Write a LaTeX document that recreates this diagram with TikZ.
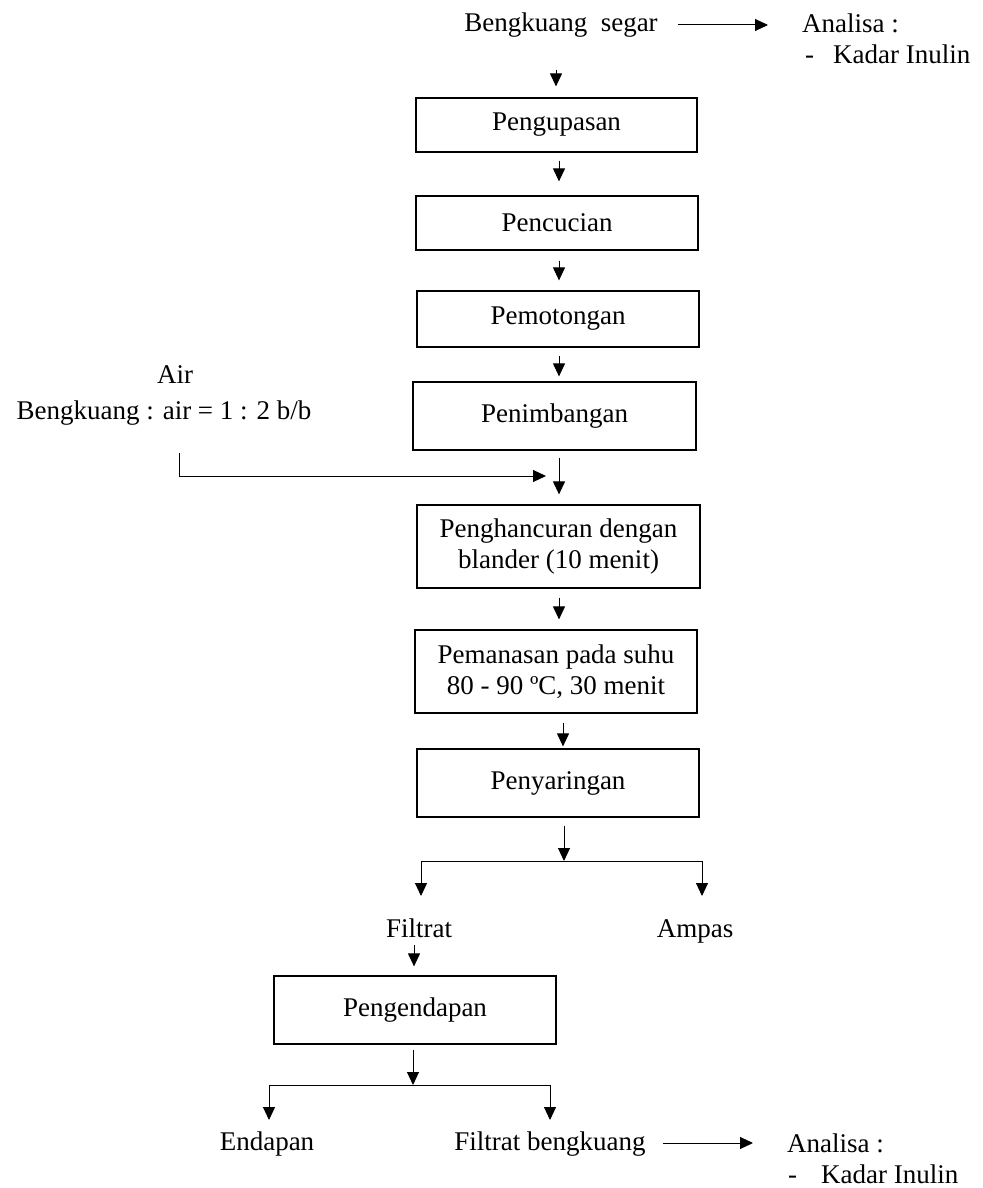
\documentclass[tikz,border=0pt]{standalone}
\usepackage{fontspec}
\setmainfont{Liberation Serif}
\usetikzlibrary{arrows.meta,calc}
\begin{document}
\begin{tikzpicture}[x=1pt,y=-1pt,
  every node/.style={font=\fontsize{27pt}{31pt}\selectfont, inner sep=0pt},
  pbox/.style={draw, line width=1.2pt, align=center},
  txt/.style={anchor=base},
  note/.style={anchor=north west, align=left},
  arr/.style={line width=1pt, -{Triangle[length=13pt,width=12pt]}},
  ln/.style={line width=1pt}]
\useasboundingbox (0,0) rectangle (982,1188);

% texts
\node[txt] (segar) at (561,32) {Bengkuang\ \ segar};
\node[note] (an1) at (802,13.3) {Analisa :\\\hspace{3pt}-\hspace{19pt}Kadar Inulin};
\node[txt] (air) at (175,383) {Air};
\node[txt] (ratio) at (164,419) {Bengkuang : air = 1 : 2 b/b};
\node[txt] (filtrat) at (419,937) {Filtrat};
\node[txt] (ampas) at (695,937) {Ampas};
\node[txt] (endapan) at (267,1150) {Endapan};
\node[txt] (fb) at (550,1150) {Filtrat bengkuang};
\node[note] (an2) at (787,1133.3) {Analisa :\\\hspace{1pt}-\hspace{24pt}Kadar Inulin};

% boxes
\node[pbox, minimum width=281pt, minimum height=54pt] (b1) at (556.5,125) {Pengupasan};
\node[pbox, minimum width=282pt, minimum height=54pt] (b2) at (557,223) {Pencucian};
\node[pbox, minimum width=282pt, minimum height=56pt] (b3) at (558,319) {Pemotongan};
\node[pbox, minimum width=283pt, minimum height=68pt] (b4) at (554.5,416) {Penimbangan};
\node[pbox, minimum width=283pt, minimum height=83pt] (b5) at (558.5,546.5) {Penghancuran dengan\\blander (10 menit)};
\node[pbox, minimum width=282pt, minimum height=83pt] (b6) at (556,671.5) {Pemanasan pada suhu\\80 - 90 ºC, 30 menit};
\node[pbox, minimum width=282pt, minimum height=68pt] (b7) at (558,783) {Penyaringan};
\node[pbox, minimum width=282pt, minimum height=68pt] (b8) at (415,1010) {Pengendapan};

% junctions
\coordinate (j1) at (564,861);
\coordinate (j2) at (413,1085);
\coordinate (airin) at (546,476);

% connectors
\draw[arr] ($(segar.base east)+(20pt,7pt)$) -- ($(segar.base east -| an1.west)+(-34pt,7pt)$);
\draw[arr] ($(segar.base)+(-5pt,-38pt)$) -- ($(b1.north)+(-0.5pt,11pt)$);
\draw[arr] ($(b1.south)+(2.5pt,-8pt)$) -- ($(b2.north)+(2pt,14pt)$);
\draw[arr] ($(b2.south)+(2pt,-10pt)$) -- ($(b3.north)+(1pt,10pt)$);
\draw[arr] ($(b3.south)+(1pt,-8pt)$) -- ($(b4.north)+(4.5pt,5pt)$);
\draw[arr] ($(b4.south)+(4.5pt,-7pt)$) -- ($(b5.north)+(0.5pt,10pt)$);
\draw[arr] ($(ratio.base)+(15pt,-34pt)$) |- (airin);
\draw[arr] ($(b5.south)+(0.5pt,-9pt)$) -- ($(b6.north)+(3pt,10pt)$);
\draw[arr] ($(b6.south)+(7pt,-9pt)$) -- ($(b7.north)+(5pt,2pt)$);
\draw[arr] ($(b7.south)+(6pt,-8pt)$) -- (j1);
\draw[arr] (j1) -| ($(filtrat.base)+(2pt,41pt)$);
\draw[arr] (j1) -| ($(ampas.base)+(7pt,41pt)$);
\draw[arr] ($(filtrat.base)+(-5pt,-8pt)$) -- ($(b8.north)+(-1pt,9pt)$);
\draw[arr] ($(b8.south)+(-2pt,-5pt)$) -- (j2);
\draw[arr] (j2) -| ($(endapan.base)+(2pt,30pt)$);
\draw[arr] (j2) -| ($(fb.base)+(0pt,30pt)$);
\draw[arr] ($(fb.base east)+(17pt,7pt)$) -- ($(fb.base east -| an2.west)+(-34pt,7pt)$);
\end{tikzpicture}
\end{document}
